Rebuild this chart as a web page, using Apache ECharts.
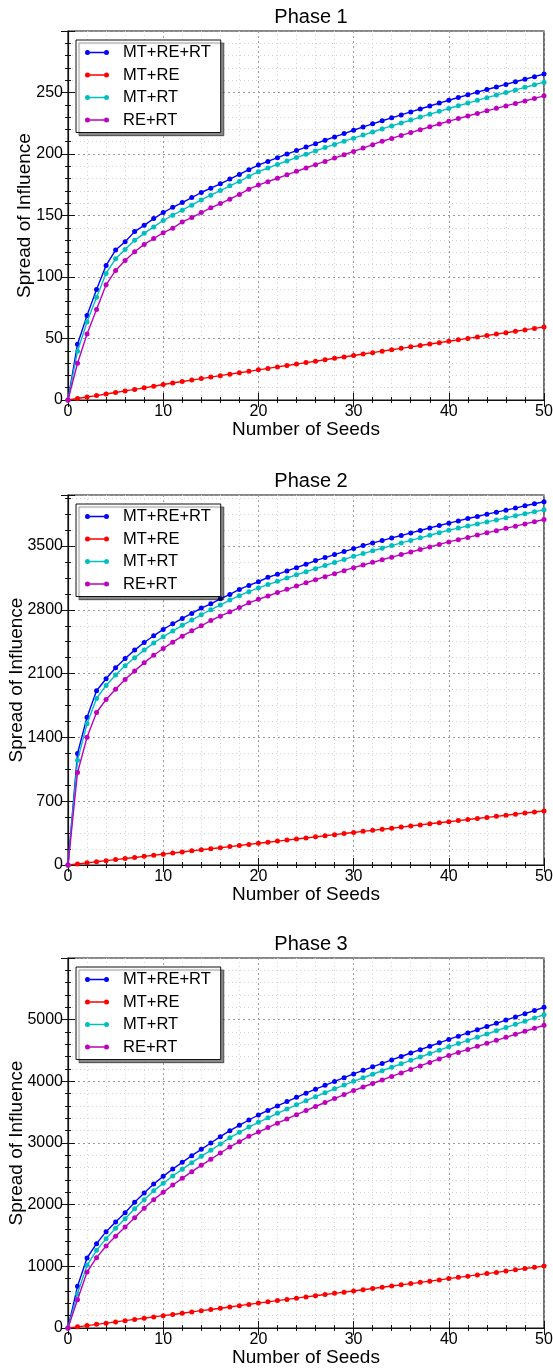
<!DOCTYPE html>
<html>
<head>
<meta charset="utf-8">
<title>Spread of Influence</title>
<script src="https://cdn.jsdelivr.net/npm/echarts@6/dist/echarts.min.js"></script>
<style>
html, body { margin: 0; padding: 0; background: #fff; }
#chartmain { width: 553px; height: 1369px; }
</style>
</head>
<body>
<div id="chartmain"></div>
<script>
var seeds = [0, 1, 2, 3, 4, 5, 6, 7, 8, 9, 10, 11, 12, 13, 14, 15, 16, 17, 18, 19, 20,
	21, 22, 23, 24, 25, 26, 27, 28, 29, 30, 31, 32, 33, 34, 35, 36, 37, 38, 39, 40,
	41, 42, 43, 44, 45, 46, 47, 48, 49, 50];
var names = ['MT+RE+RT', 'MT+RE', 'MT+RT', 'RE+RT'];
var colors = ['#0000ff', '#ff0000', '#00bfbf', '#bf00bf'];
var titles = ['Phase 1', 'Phase 2', 'Phase 3'];

// Phase 1
var p1MtReRt = [0, 45.4, 68.8, 89.8, 109.4, 121.9, 128.7, 136.9, 142, 147.5, 152.4,
	156.7, 160.5, 164.6, 168.7, 172.2, 175.8, 179.6, 183.4, 187.2, 191,
	194, 197, 199.9, 202.8, 205.6, 208.4, 211.2, 213.9, 216.6, 219.3,
	222, 224.5, 227, 229.4, 231.8, 234.2, 236.6, 239, 241.4, 243.7,
	245.9, 248.1, 250.3, 252.4, 254.5, 256.6, 258.7, 260.8, 262.9, 265];
var p1MtRe = [0, 1.2, 2.4, 3.6, 4.9, 6.1, 7.4, 8.6, 9.9, 11.2, 12.6,
	13.8, 15, 16.2, 17.4, 18.6, 19.8, 21, 22.2, 23.3, 24.5,
	25.7, 26.9, 28.1, 29.2, 30.4, 31.5, 32.7, 33.9, 35, 36.2,
	37.4, 38.5, 39.7, 40.9, 42, 43.2, 44.3, 45.5, 46.6, 47.8,
	48.9, 50.1, 51.3, 52.4, 53.6, 54.7, 55.9, 57, 58.2, 59.4];
var p1MtRt = [0, 39.7, 63.4, 83.5, 102.9, 114.8, 122.4, 129.8, 135.5, 140.7, 145.9,
	150.2, 154.3, 158.4, 162.7, 166.5, 170.3, 174.1, 177.7, 181.8, 185.6,
	188.6, 191.5, 194.3, 197.1, 199.8, 202.5, 205.2, 207.8, 210.4, 212.9,
	215.4, 217.9, 220.4, 222.8, 225.2, 227.6, 230, 232.4, 234.7, 237,
	239.2, 241.4, 243.6, 245.8, 247.9, 250, 252.1, 254.2, 256.3, 258.4];
var p1ReRt = [0, 29.9, 53.6, 73.5, 93.6, 105.3, 113.5, 120.5, 126.5, 131.2, 136,
	139.6, 144.8, 148.3, 152.4, 156.2, 159.7, 163.3, 167.1, 171.4, 174.7,
	177.5, 180.3, 183.1, 185.9, 188.6, 191.3, 194, 196.7, 199.4, 202.1,
	204.8, 207.6, 210.4, 212.7, 215.1, 217.4, 219.7, 222.1, 224.4, 226.7,
	228.8, 230.9, 233, 235.1, 237.1, 239.1, 241.1, 243.1, 245.2, 247.3];

// Phase 2
var p2MtReRt = [0, 1223, 1622, 1912, 2044, 2165, 2266, 2358, 2442, 2515, 2585,
	2647, 2706, 2760, 2819, 2866, 2921, 2969, 3024, 3068, 3108,
	3157, 3190, 3227, 3263, 3300, 3340, 3373, 3406, 3439, 3472,
	3505, 3534, 3560, 3589, 3615, 3644, 3670, 3699, 3725, 3751,
	3776, 3802, 3824, 3850, 3872, 3894, 3916, 3942, 3964, 3986];
var p2MtRe = [0, 11.5, 23.5, 35.5, 47.5, 59.5, 71, 83, 95, 107, 119,
	131, 143, 155, 167, 178, 190, 202, 214, 226, 238,
	250, 262, 273, 285, 297, 309, 321, 333, 345, 357,
	369, 380, 392, 404, 416, 428, 440, 452, 463, 475,
	487, 499, 511, 522, 534, 546, 558, 570, 581, 592];
var p2MtRt = [0, 1150, 1550, 1828, 1970, 2084, 2186, 2274, 2358, 2435, 2505,
	2567, 2630, 2688, 2746, 2801, 2852, 2907, 2955, 2999, 3040,
	3077, 3113, 3149, 3184, 3218, 3252, 3286, 3320, 3353, 3387,
	3417, 3447, 3476, 3505, 3534, 3562, 3590, 3618, 3646, 3674,
	3697, 3720, 3743, 3765, 3787, 3809, 3832, 3854, 3876, 3897];
var p2ReRt = [0, 1015, 1402, 1673, 1816, 1929, 2035, 2130, 2218, 2302, 2376,
	2445, 2511, 2570, 2624, 2683, 2730, 2778, 2825, 2877, 2915,
	2952, 2989, 3025, 3061, 3096, 3130, 3164, 3197, 3230, 3263,
	3292, 3321, 3350, 3378, 3406, 3434, 3462, 3490, 3518, 3545,
	3570, 3595, 3620, 3645, 3669, 3694, 3718, 3743, 3767, 3791];

// Phase 3
var p3MtReRt = [0, 676, 1135, 1368, 1562, 1719, 1870, 2038, 2189, 2335, 2459,
	2578, 2686, 2795, 2897, 3000, 3103, 3200, 3286, 3373, 3454,
	3528, 3601, 3672, 3741, 3808, 3873, 3936, 3998, 4059, 4120,
	4178, 4235, 4291, 4347, 4403, 4459, 4514, 4569, 4625, 4680,
	4733, 4785, 4837, 4889, 4941, 4993, 5045, 5097, 5149, 5200];
var p3MtRe = [0, 19, 39, 59, 79, 99, 119, 139, 159, 180, 200,
	220, 240, 261, 281, 301, 321, 341, 362, 383, 404,
	424, 444, 464, 484, 504, 523, 543, 562, 581, 600,
	620, 640, 660, 680, 700, 720, 740, 760, 780, 801,
	821, 841, 861, 882, 902, 923, 943, 964, 984, 1005];
var p3MtRt = [0, 557, 1016, 1259, 1449, 1616, 1773, 1935, 2081, 2227, 2346,
	2465, 2573, 2681, 2784, 2881, 2984, 3086, 3173, 3259, 3335,
	3409, 3481, 3551, 3619, 3686, 3751, 3815, 3878, 3940, 4000,
	4058, 4115, 4172, 4228, 4284, 4340, 4395, 4450, 4505, 4560,
	4612, 4664, 4716, 4768, 4820, 4872, 4924, 4976, 5028, 5080];
var p3ReRt = [0, 459, 908, 1141, 1330, 1486, 1638, 1789, 1941, 2081, 2200,
	2319, 2427, 2535, 2638, 2735, 2838, 2935, 3022, 3108, 3178,
	3251, 3322, 3391, 3459, 3526, 3592, 3657, 3721, 3786, 3850,
	3908, 3965, 4022, 4079, 4136, 4193, 4250, 4307, 4364, 4420,
	4469, 4518, 4567, 4616, 4665, 4714, 4763, 4812, 4861, 4910];

var phases = [
	[p1MtReRt, p1MtRe, p1MtRt, p1ReRt],
	[p2MtReRt, p2MtRe, p2MtRt, p2ReRt],
	[p3MtReRt, p3MtRe, p3MtRt, p3ReRt]
];

var yMax = [300, 4060, 6000];
var yStep = [50, 700, 1000];
var yMinorSplit = [5, 4, 5];
var gridTop = [31, 495, 958];
var gridHeight = [369, 370, 370];
var yNameGap = [34, 42, 42];

var font = 'Liberation Sans, Arial, sans-serif';
// line segment between two dots, shapes kept apart so the fill stays solid
var legendIcon = 'path://M5,2.3L19,2.3L19,3.7L5,3.7Z M0,3A2.5,2.5,0,1,1,5,3A2.5,2.5,0,1,1,0,3Z M19,3A2.5,2.5,0,1,1,24,3A2.5,2.5,0,1,1,19,3Z';

function plain(v) {
	return String(v);
}

var grids = [], xAxes = [], yAxes = [], series = [], legends = [], titleList = [];

for (var i = 0; i < 3; i++) {
	grids.push({
		left : 68,
		width : 476,
		top : gridTop[i],
		height : gridHeight[i],
		containLabel : false,
		outerBoundsMode : 'none',
		show : true,
		borderColor : '#111',
		borderWidth : 1.2,
		backgroundColor : '#fff'
	});
	titleList.push({
		text : titles[i],
		left : 306,
		top : gridTop[i] - 29,
		textAlign : 'center',
		textStyle : { fontFamily : font, fontSize : 20, fontWeight : 'normal', color : '#000' }
	});
	// bottom x axis
	xAxes.push({
		gridIndex : i,
		type : 'value',
		min : 0,
		max : 50,
		interval : 10,
		name : 'Number of Seeds',
		nameLocation : 'middle',
		nameGap : 20,
		nameMoveOverlap : false,
		nameTextStyle : { fontFamily : font, fontSize : 19, color : '#000' },
		axisLine : { show : true, lineStyle : { color : '#111', width : 1.2 } },
		axisTick : { show : true, inside : true, length : 7, lineStyle : { color : '#111' } },
		minorTick : { show : true, splitNumber : 5, length : 3, lineStyle : { color : '#111' } },
		axisLabel : { fontFamily : font, fontSize : 16, color : '#000', margin : 4, formatter : plain },
		splitLine : { show : true, lineStyle : { color : '#9a9a9a', type : [2, 3], width : 1 } },
		minorSplitLine : { show : true, lineStyle : { color : '#d4d4d4', type : [1, 3], width : 1 } }
	});
	// top x axis (ticks only)
	xAxes.push({
		gridIndex : i,
		type : 'value',
		position : 'top',
		min : 0,
		max : 50,
		interval : 10,
		axisLine : { show : false },
		axisTick : { show : true, inside : true, length : 7, lineStyle : { color : '#111' } },
		minorTick : { show : true, splitNumber : 5, length : 3, lineStyle : { color : '#111' } },
		axisLabel : { show : false },
		splitLine : { show : false }
	});
	// left y axis
	yAxes.push({
		gridIndex : i,
		type : 'value',
		min : 0,
		max : yMax[i],
		interval : yStep[i],
		name : 'Spread of Influence',
		nameLocation : 'middle',
		nameGap : yNameGap[i],
		nameMoveOverlap : false,
		nameTextStyle : { fontFamily : font, fontSize : 19, color : '#000' },
		axisLine : { show : true, lineStyle : { color : '#111', width : 1.2 } },
		axisTick : { show : true, inside : true, length : 7, lineStyle : { color : '#111' } },
		minorTick : { show : true, splitNumber : yMinorSplit[i], length : 3, lineStyle : { color : '#111' } },
		axisLabel : { fontFamily : font, fontSize : 16, color : '#000', margin : 5, showMaxLabel : false, formatter : plain },
		splitLine : { show : true, lineStyle : { color : '#9a9a9a', type : [2, 3], width : 1 } },
		minorSplitLine : { show : true, lineStyle : { color : '#d4d4d4', type : [1, 3], width : 1 } }
	});
	// right y axis (ticks only)
	yAxes.push({
		gridIndex : i,
		type : 'value',
		position : 'right',
		min : 0,
		max : yMax[i],
		interval : yStep[i],
		axisLine : { show : false },
		axisTick : { show : true, inside : true, length : 7, lineStyle : { color : '#111' } },
		minorTick : { show : true, splitNumber : yMinorSplit[i], length : 3, lineStyle : { color : '#111' } },
		axisLabel : { show : false },
		splitLine : { show : false }
	});

	var legendData = [];
	for (var j = 0; j < 4; j++) {
		legendData.push({ name : names[j], icon : legendIcon });
		series.push({
			name : names[j],
			type : 'line',
			xAxisIndex : i * 2,
			yAxisIndex : i * 2,
			data : seeds.map(function(s, k) { return [s, this[k]]; }, phases[i][j]),
			symbol : 'circle',
			symbolSize : 5,
			showSymbol : true,
			color : colors[j],
			lineStyle : { width : 1.4, color : colors[j] },
			itemStyle : { color : colors[j], borderWidth : 0 },
			z : 2 + j,
			animation : false
		});
	}
	legends.push({
		orient : 'vertical',
		left : 76,
		top : gridTop[i] + 9,
		data : legendData,
		itemWidth : 24,
		itemHeight : 5,
		itemGap : 5.5,
		padding : [4, 10, 4, 9],
		backgroundColor : '#fff',
		borderColor : '#111',
		borderWidth : 1,
		shadowColor : 'rgba(0,0,0,0.45)',
		shadowBlur : 1,
		shadowOffsetX : 3,
		shadowOffsetY : 3,
		selectedMode : false,
		textStyle : { fontFamily : font, fontSize : 16.5, lineHeight : 16, color : '#000', padding : [0, 0, 0, 9] }
	});
}

var option = {
	backgroundColor : '#fff',
	animation : false,
	title : titleList,
	legend : legends,
	grid : grids,
	xAxis : xAxes,
	yAxis : yAxes,
	series : series
};

var myChart = echarts.init(document.getElementById('chartmain'), null, { renderer : 'canvas' });
myChart.setOption(option);
</script>
</body>
</html>
